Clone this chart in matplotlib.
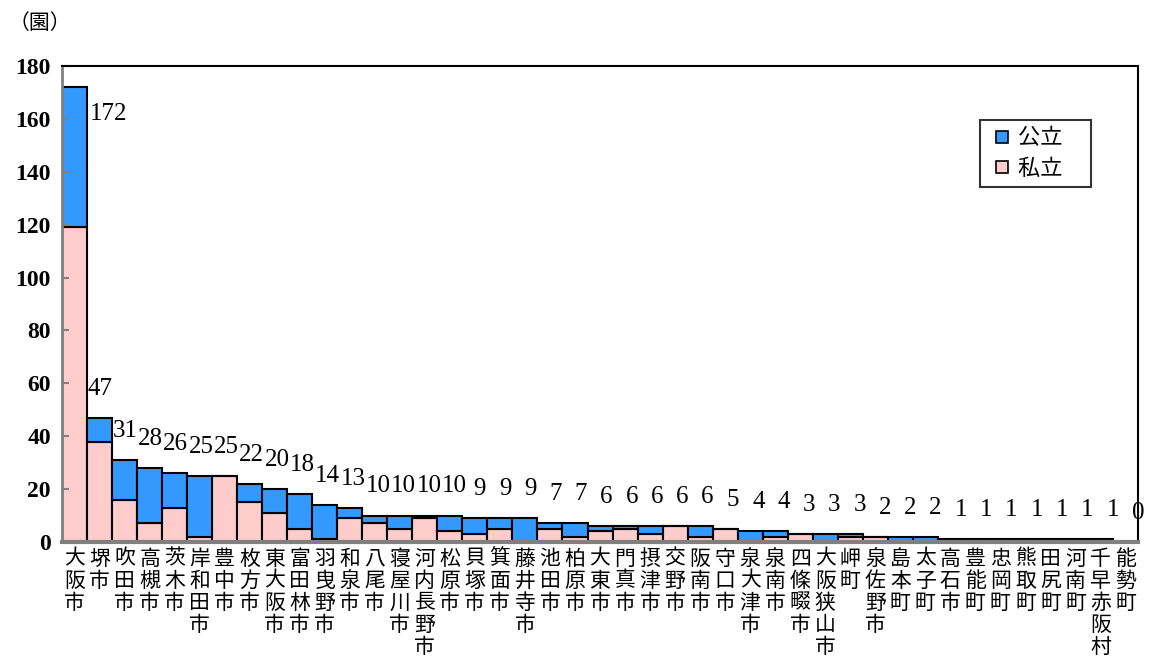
import matplotlib
matplotlib.use("Agg")
import matplotlib.pyplot as plt
from matplotlib.lines import Line2D
import numpy as np

plt.rcParams['font.family'] = ['Noto Sans CJK JP', 'DejaVu Sans']

# municipalities
cities = ["大阪市", "堺市", "吹田市", "高槻市", "茨木市", "岸和田市", "豊中市", "枚方市",
          "東大阪市", "富田林市", "羽曳野市", "和泉市", "八尾市", "寝屋川市", "河内長野市",
          "松原市", "貝塚市", "箕面市", "藤井寺市", "池田市", "柏原市", "大東市", "門真市",
          "摂津市", "交野市", "阪南市", "守口市", "泉大津市", "泉南市", "四條畷市",
          "大阪狭山市", "岬町", "泉佐野市", "島本町", "太子町", "高石市", "豊能町", "忠岡町",
          "熊取町", "田尻町", "河南町", "千早赤阪村", "能勢町"]

# private kindergartens (bottom, pink)
private = [119, 38, 16, 7, 13, 2, 25, 15, 11, 5, 1, 9, 7, 5, 9, 4, 3, 5, 0, 5, 2, 4, 5,
           3, 6, 2, 5, 0, 2, 3, 0, 2, 2, 0, 0, 0, 0, 0, 0, 0, 0, 0, 0]
# public kindergartens (top, blue)
public = [53, 9, 15, 21, 13, 23, 0, 7, 9, 13, 13, 4, 3, 5, 1, 6, 6, 4, 9, 2, 5, 2, 1,
          3, 0, 4, 0, 4, 2, 0, 3, 1, 0, 2, 2, 1, 1, 1, 1, 1, 1, 1, 0]

private = np.array(private)
public = np.array(public)
total = private + public
x = np.arange(len(cities))

pink = "#FFCCCC"
blue = "#3399FF"

fig, ax = plt.subplots(figsize=(11.5, 6.58), dpi=100)
fig.subplots_adjust(left=0.0539, right=0.9896, bottom=0.1763, top=0.8997)

ax.bar(x, private, width=1.0, color=pink, edgecolor="black", linewidth=1.5)
ax.bar(x, public, width=1.0, bottom=private, color=blue, edgecolor="black", linewidth=1.5)

# total labels
for i, t in enumerate(total):
    if t > 165:
        ax.text(i + 0.6, 162, str(t), ha="left", va="center", fontsize=18,
                family="Liberation Serif")
    else:
        ax.text(i + 0.012 * i, t + 11, str(t), ha="center", va="center", fontsize=18,
                family="Liberation Serif")

ax.set_xlim(-0.5, len(cities) - 0.5)
ax.set_ylim(0, 180)
ax.set_yticks(np.arange(0, 181, 20))
for lab in ax.get_yticklabels():
    lab.set_family("Liberation Serif")
    lab.set_fontweight("bold")
    lab.set_fontsize(17)
ax.tick_params(axis="y", direction="in", length=5, width=1.5, color="#808080", pad=8)

ax.set_xticks(x)
ax.set_xticklabels(["\n".join(c) for c in cities], fontsize=15, linespacing=1.0, va="top")
ax.tick_params(axis="x", length=0, pad=4)

ax.spines["left"].set_color("#808080")
ax.spines["left"].set_linewidth(2)
ax.spines["bottom"].set_color("#808080")
ax.spines["bottom"].set_linewidth(3)
ax.spines["top"].set_linewidth(1.5)
ax.spines["right"].set_linewidth(1.5)

handles = [Line2D([], [], marker="s", linestyle="none", markersize=8,
                  markerfacecolor=blue, markeredgecolor="black", markeredgewidth=1.2),
           Line2D([], [], marker="s", linestyle="none", markersize=8,
                  markerfacecolor=pink, markeredgecolor="black", markeredgewidth=1.2)]
leg = ax.legend(handles, ["公立\u3000", "私立\u3000"], loc="upper left",
                bbox_to_anchor=(0.853, 0.887), borderaxespad=0,
                fontsize=16, frameon=True, fancybox=False, edgecolor="black",
                handlelength=1.4, handletextpad=0.0,
                borderpad=0.3, labelspacing=0.35)
leg.get_frame().set_linewidth(1.5)

fig.text(0.007, 0.965, "（園）", fontsize=15, ha="left", va="center")

fig.savefig("out.png", dpi=100)
